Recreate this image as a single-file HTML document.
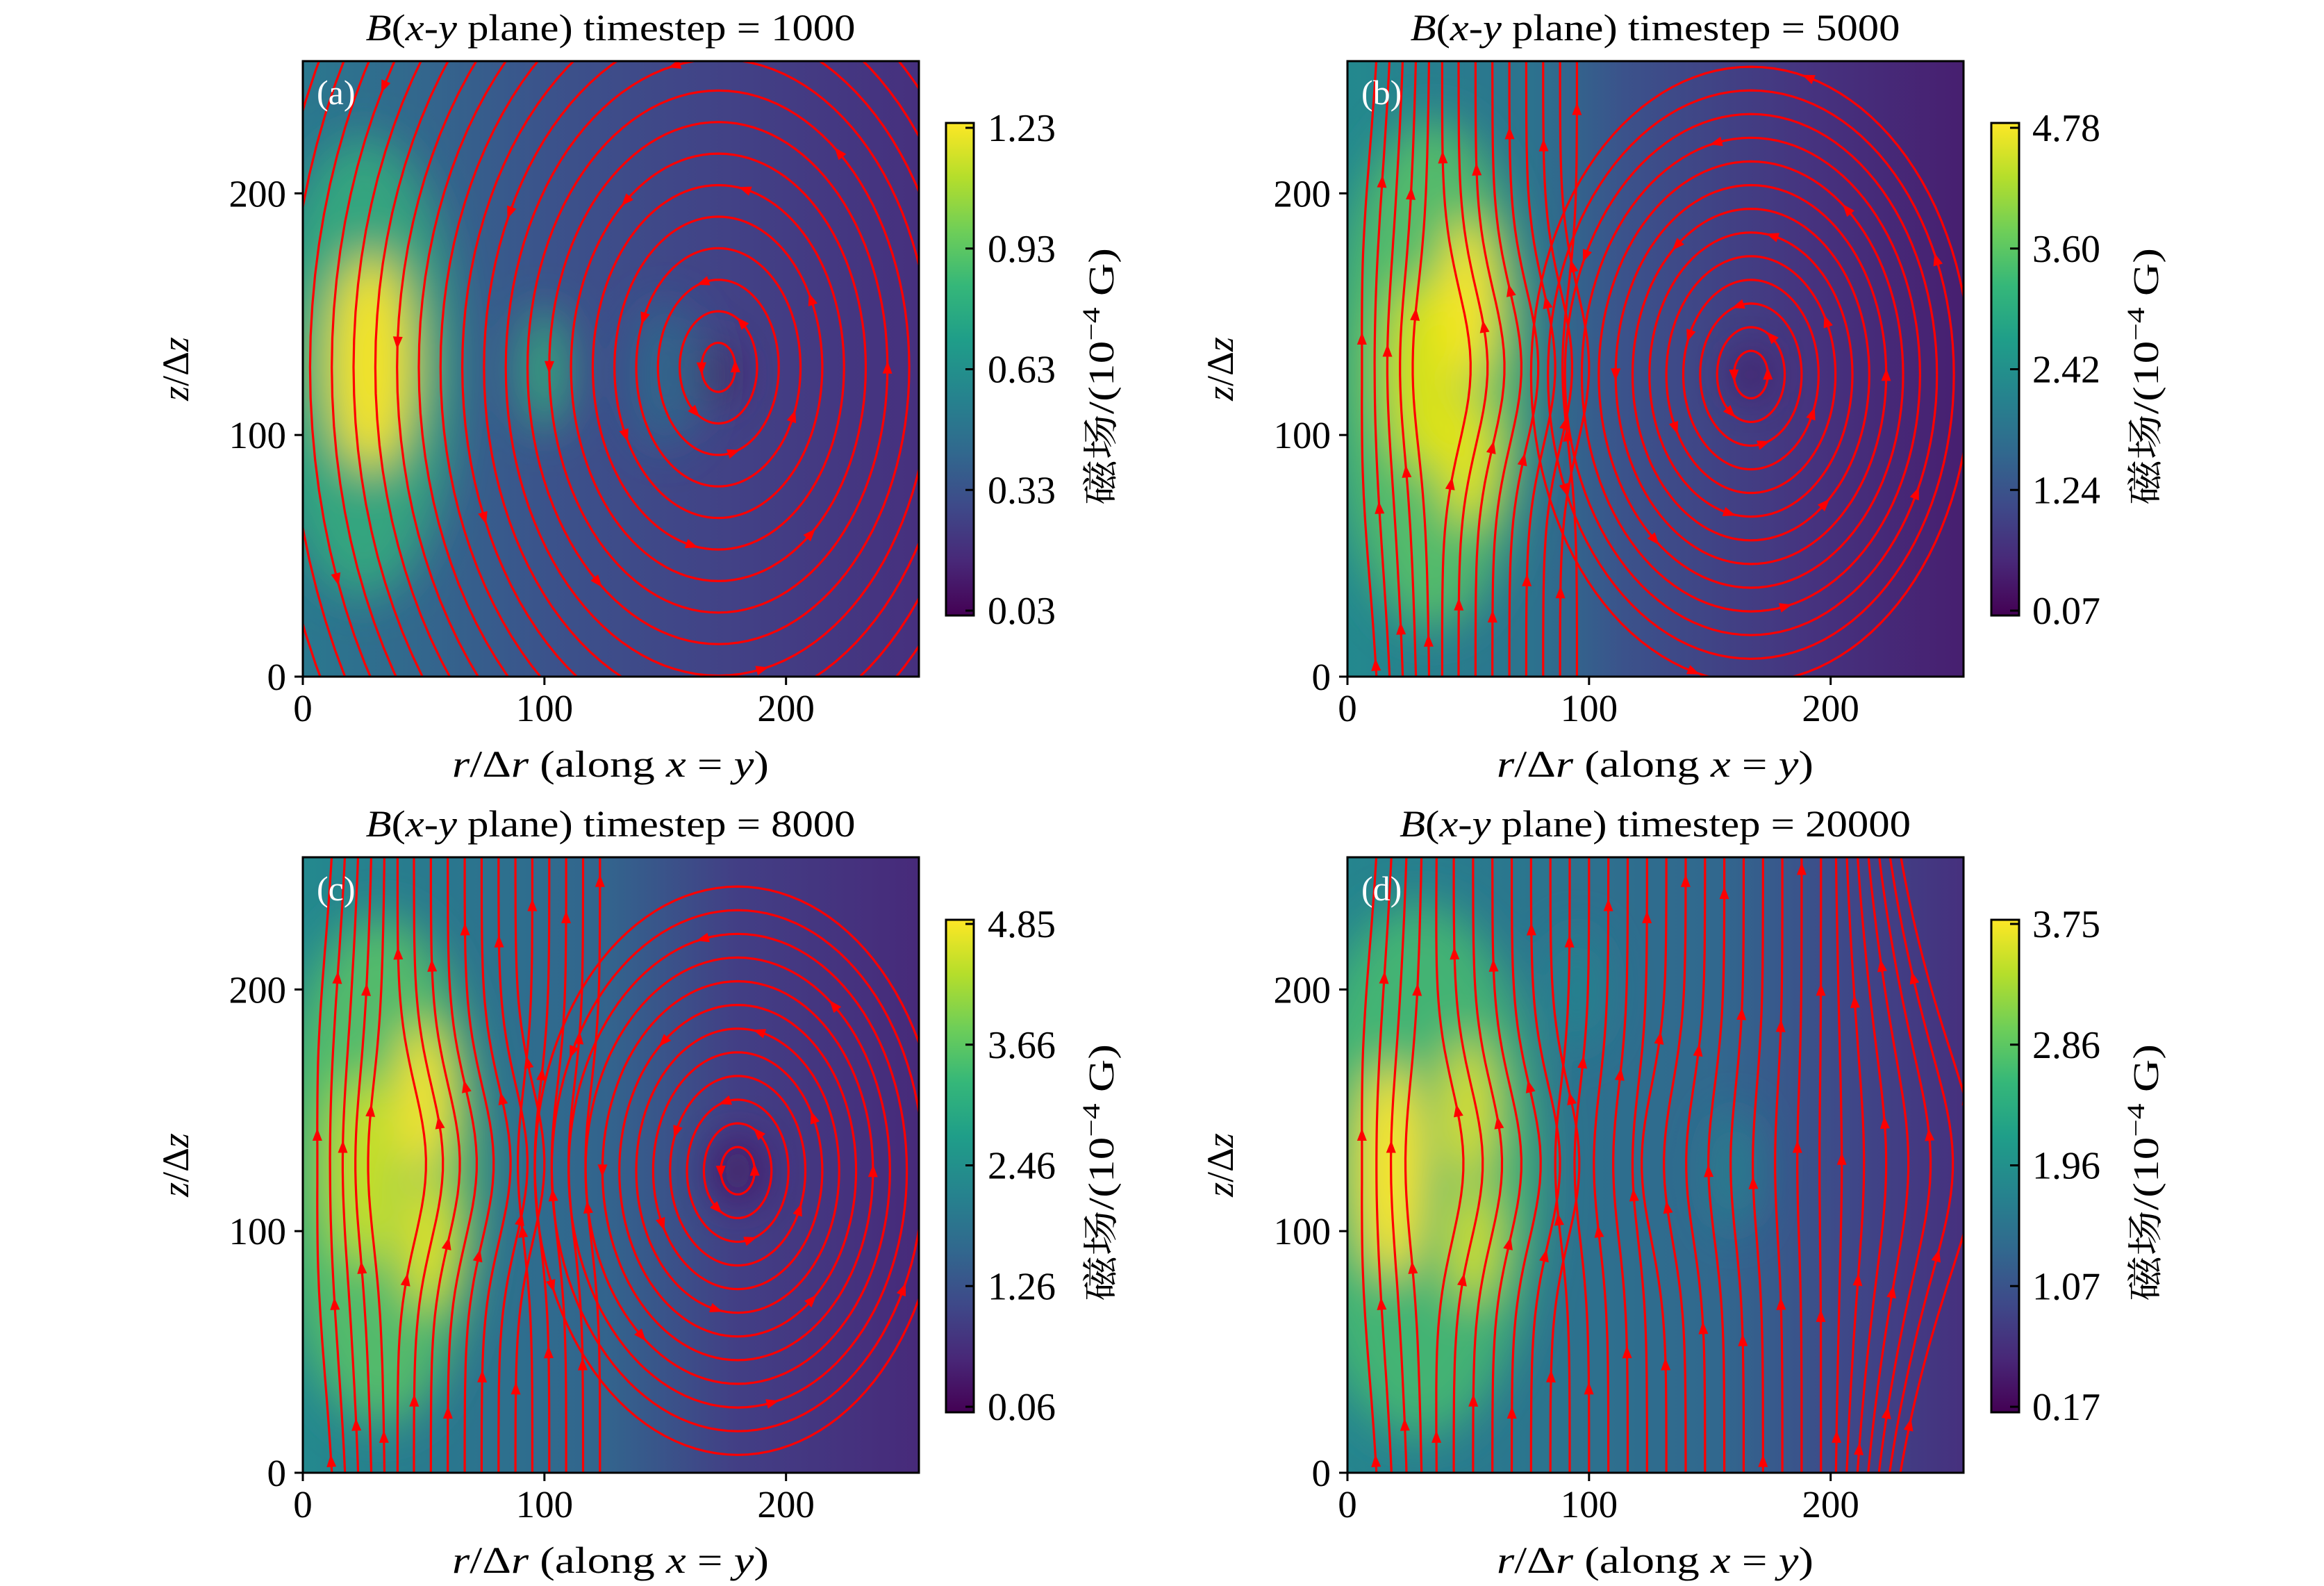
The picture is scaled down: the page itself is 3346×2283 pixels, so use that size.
<!DOCTYPE html>
<html><head><meta charset="utf-8"><style>
html,body{margin:0;padding:0;background:#fff;}
svg{display:block;}
text{font-family:"Liberation Serif","Noto Serif CJK SC",serif;fill:#000;}
</style></head><body>
<svg id="s" xmlns="http://www.w3.org/2000/svg" width="3346" height="2283" viewBox="0 0 3346 2283">
<defs>
<filter id="bl" x="-50%" y="-50%" width="200%" height="200%"><feGaussianBlur stdDeviation="9"/></filter>
<linearGradient id="vir" x1="0" y1="1" x2="0" y2="0">
<stop offset="0" stop-color="#440154"/><stop offset="0.11" stop-color="#482878"/><stop offset="0.22" stop-color="#3e4989"/><stop offset="0.33" stop-color="#31688e"/><stop offset="0.44" stop-color="#26828e"/><stop offset="0.56" stop-color="#1f9e89"/><stop offset="0.67" stop-color="#35b779"/><stop offset="0.78" stop-color="#6ece58"/><stop offset="0.89" stop-color="#b5de2b"/><stop offset="1" stop-color="#fde725"/>
</linearGradient>
<linearGradient id="ga" x1="0" x2="1" y1="0" y2="0">
<stop offset="0" stop-color="#2a788e"/><stop offset="0.2" stop-color="#33668d"/><stop offset="0.4" stop-color="#3b528b"/><stop offset="0.65" stop-color="#414487"/><stop offset="1" stop-color="#46307e"/></linearGradient>
<linearGradient id="gb" x1="0" x2="1" y1="0" y2="0">
<stop offset="0" stop-color="#23898e"/><stop offset="0.3" stop-color="#2c728e"/><stop offset="0.45" stop-color="#3b528b"/><stop offset="0.75" stop-color="#46337f"/><stop offset="1" stop-color="#471f70"/></linearGradient>
<linearGradient id="gc" x1="0" x2="1" y1="0" y2="0">
<stop offset="0" stop-color="#23898e"/><stop offset="0.3" stop-color="#2c728e"/><stop offset="0.5" stop-color="#33638d"/><stop offset="0.7" stop-color="#423f85"/><stop offset="1" stop-color="#472a7a"/></linearGradient>
<linearGradient id="gd" x1="0" x2="1" y1="0" y2="0">
<stop offset="0" stop-color="#25858e"/><stop offset="0.35" stop-color="#2c728e"/><stop offset="0.6" stop-color="#31688e"/><stop offset="0.8" stop-color="#3e4989"/><stop offset="1" stop-color="#46307e"/></linearGradient>
<clipPath id="cp"><rect x="0" y="0" width="255" height="255"/></clipPath>
</defs>

<g transform="translate(436,974) scale(3.4784,-3.4784)" clip-path="url(#cp)">
<rect width="255" height="255" fill="url(#ga)"/>
<g filter="url(#bl)">
<ellipse cx="25" cy="128" rx="38" ry="95" fill="#35b779" opacity="0.75"/>
<ellipse cx="28" cy="130" rx="18" ry="45" fill="#fde725" opacity="0.95"/>
<ellipse cx="100" cy="127" rx="9" ry="25" fill="#35b779" opacity="0.9"/>
<ellipse cx="150" cy="125" rx="15" ry="30" fill="#2a788e" opacity="0.6"/>
<ellipse cx="172" cy="125" rx="5" ry="12" fill="#440154"/>
</g></g>
<g transform="translate(1940,974) scale(3.4784,-3.4784)" clip-path="url(#cp)">
<rect width="255" height="255" fill="url(#gb)"/>
<g filter="url(#bl)">
<ellipse cx="35" cy="125" rx="40" ry="105" fill="#5ec962" opacity="0.8"/>
<ellipse cx="50" cy="155" rx="12" ry="35" fill="#fde725"/>
<ellipse cx="50" cy="90" rx="12" ry="28" fill="#e5e419"/>
<ellipse cx="30" cy="125" rx="14" ry="40" fill="#d8e219"/>
<ellipse cx="167" cy="125" rx="5" ry="9" fill="#440154"/>
</g></g>
<g transform="translate(436,2120) scale(3.4784,-3.4784)" clip-path="url(#cp)">
<rect width="255" height="255" fill="url(#gc)"/>
<g filter="url(#bl)">
<ellipse cx="32" cy="125" rx="42" ry="105" fill="#5ec962" opacity="0.8"/>
<ellipse cx="50" cy="155" rx="11" ry="32" fill="#fde725"/>
<ellipse cx="52" cy="95" rx="11" ry="28" fill="#e5e419"/>
<ellipse cx="25" cy="125" rx="14" ry="40" fill="#c8e020"/>
<ellipse cx="180" cy="125" rx="8" ry="12" fill="#46085c"/>
</g></g>
<g transform="translate(1940,2120) scale(3.4784,-3.4784)" clip-path="url(#cp)">
<rect width="255" height="255" fill="url(#gd)"/>
<g filter="url(#bl)">
<ellipse cx="30" cy="125" rx="50" ry="110" fill="#4ac16d" opacity="0.8"/>
<ellipse cx="18" cy="125" rx="14" ry="45" fill="#fde725"/>
<ellipse cx="50" cy="150" rx="10" ry="30" fill="#e5e419"/>
<ellipse cx="52" cy="95" rx="10" ry="25" fill="#d8e219"/>
<ellipse cx="95" cy="200" rx="12" ry="25" fill="#23898e" opacity="0.7"/>
<ellipse cx="160" cy="125" rx="10" ry="25" fill="#23898e" opacity="0.7"/>
</g></g>

<g id="lines"></g>

<g fill="none" stroke="#000" stroke-width="3">
<rect x="436" y="88" width="887" height="886"/>
<rect x="1940" y="88" width="887" height="886"/>
<rect x="436" y="1234" width="887" height="886"/>
<rect x="1940" y="1234" width="887" height="886"/>
</g>

<g stroke="#000" stroke-width="3">
<rect x="1362" y="177" width="40" height="709" fill="url(#vir)"/>
<rect x="2867" y="177" width="40" height="709" fill="url(#vir)"/>
<rect x="1362" y="1324" width="40" height="709" fill="url(#vir)"/>
<rect x="2867" y="1324" width="40" height="709" fill="url(#vir)"/>
</g>

<g id="txt"></g>
</svg>
<script>
var NS="http://www.w3.org/2000/svg",S=3.4784;
function el(p,t,a,txt){var e=document.createElementNS(NS,t);for(var k in a)e.setAttribute(k,a[k]);if(txt!=null)e.textContent=txt;p.appendChild(e);return e;}
var L=document.getElementById('lines'),T=document.getElementById('txt');
var P=[[436,88],[1940,88],[436,1234],[1940,1234]];
var titles=["1000","5000","8000","20000"],letters=["a","b","c","d"];
var cb=[["1.23","0.93","0.63","0.33","0.03"],["4.78","3.60","2.42","1.24","0.07"],["4.85","3.66","2.46","1.26","0.06"],["3.75","2.86","1.96","1.07","0.17"]];
function tx(px,py,x,y){return [px+x*S,py+886-y*S];}
function poly(g,px,py,pts,arrowIdx,dir){
 var d="";pts.forEach(function(p,i){var q=tx(px,py,p[0],p[1]);d+=(i?"L":"M")+q[0].toFixed(1)+","+q[1].toFixed(1);});
 el(g,"path",{d:d,fill:"none",stroke:"#f00","stroke-width":3.2});
 arrowIdx.forEach(function(i){if(i<1||i>=pts.length)return;
  var a=tx(px,py,pts[i-1][0],pts[i-1][1]),b=tx(px,py,pts[i][0],pts[i][1]);
  if(dir<0){var t=a;a=b;b=t;}
  var dx=b[0]-a[0],dy=b[1]-a[1],l=Math.hypot(dx,dy)||1;dx/=l;dy/=l;
  var tipx=b[0]+dx*9,tipy=b[1]+dy*9,bx=b[0]-dx*9,by=b[1]-dy*9;
  el(g,"polygon",{points:tipx+","+tipy+" "+(bx-dy*7)+","+(by+dx*7)+" "+(bx+dy*7)+","+(by-dx*7),fill:"#f00"});});
}
function panel(k){
 var px=P[k][0],py=P[k][1];
 var g=el(L,"g",{});
 var cp=el(g,"clipPath",{id:"c"+k});el(cp,"rect",{x:px,y:py,width:887,height:886});
 var gg=el(g,"g",{"clip-path":"url(#c"+k+")"});
 var cx=[172,167,180,null][k],cy=[128,125,125,0][k];
 var rmax=[200,95,85,0][k],ratio=[1.45,1.4,1.4,1][k];
 if(cx){for(var r=7,n=0;r<=rmax;r+=(k==0?9:7),n++){var pts=[];for(var t=0;t<=120;t++){var a=t/120*2*Math.PI;pts.push([cx+r*Math.cos(a),cy+r*ratio*Math.sin(a)]);}
  poly(gg,px,py,pts,[(n*17)%120+1,(n*17+60)%120+1],1);}}
 var x0s=[];
 if(k==1){for(var x=4;x<100;x+=7)x0s.push(x);}
 if(k==2){for(var x=4;x<125;x+=7)x0s.push(x);}
 if(k==3){for(var x=4;x<255;x+=8)x0s.push(x);}
 x0s.forEach(function(x0,n){var pts=[];for(var z=-5;z<=260;z+=5){
   var g1=Math.exp(-Math.pow((z-128)/45,2));var b;
   if(x0<35)b=-0.25*x0+3; else if(x0<90)b=12; else if(x0<130)b=-6; else b=(x0-200)*0.15;
   var w=(x0>200?-(x0-200)*0.6*(1-Math.exp(-Math.pow((z-128)/110,2))):0)+(x0<40?(40-x0)*0.3*(1-Math.exp(-Math.pow((z-128)/110,2))):0);
   pts.push([x0+b*g1+w,z]);}
  poly(gg,px,py,pts,[(n*13)%50+2,(n*13+27)%50+2],1);});
 var tl=k==3?736:705;
 var t=el(T,"text",{x:px+443,y:py-30,"font-size":54,"text-anchor":"middle",textLength:tl,lengthAdjust:"spacingAndGlyphs"});
 t.innerHTML='<tspan font-style="italic">B</tspan>(<tspan font-style="italic">x</tspan>-<tspan font-style="italic">y</tspan> plane) timestep = '+titles[k];
 el(T,"text",{x:px+20,y:py+62,"font-size":50,fill:"#fff",style:"fill:#fff"},"("+letters[k]+")");
 [0,100,200].forEach(function(v){var x=px+v*S;el(T,"line",{x1:x,x2:x,y1:py+886,y2:py+898,stroke:"#000","stroke-width":3});
  el(T,"text",{x:x,y:py+950,"font-size":55,"text-anchor":"middle"},""+v);
  var y=py+886-v*S;el(T,"line",{x1:px-12,x2:px,y1:y,y2:y,stroke:"#000","stroke-width":3});
  el(T,"text",{x:px-24,y:y+19,"font-size":55,"text-anchor":"end"},""+v);});
 var xl=el(T,"text",{x:px+443,y:py+1030,"font-size":54,"text-anchor":"middle",textLength:456,lengthAdjust:"spacingAndGlyphs"});
 xl.innerHTML='<tspan font-style="italic">r</tspan>/Δ<tspan font-style="italic">r</tspan> (along <tspan font-style="italic">x</tspan> = <tspan font-style="italic">y</tspan>)';
 var yl=el(T,"text",{x:0,y:0,"font-size":54,"text-anchor":"middle",transform:"translate("+(px-165)+","+(py+443)+") rotate(-90)"});
 yl.innerHTML='<tspan font-style="italic">z</tspan>/Δ<tspan font-style="italic">z</tspan>';
 var cbx=px+926,cby=py+89;
 for(var i=0;i<5;i++){var y=cby+7+i*173.75;el(T,"line",{x1:cbx+28,x2:cbx+40,y1:y,y2:y,stroke:"#000","stroke-width":3});
  el(T,"text",{x:cbx+60,y:y+19,"font-size":56},cb[k][i]);}
 var cl=el(T,"text",{x:0,y:0,"font-size":52,"text-anchor":"middle",textLength:370,lengthAdjust:"spacingAndGlyphs",transform:"translate("+(px+1167)+","+(py+454)+") rotate(-90)"});
 cl.innerHTML='磁场/(10<tspan dy="-20" font-size="36">−4</tspan><tspan dy="20"> G)</tspan>';
}
for(var k=0;k<4;k++)panel(k);
</script>
</body></html>
